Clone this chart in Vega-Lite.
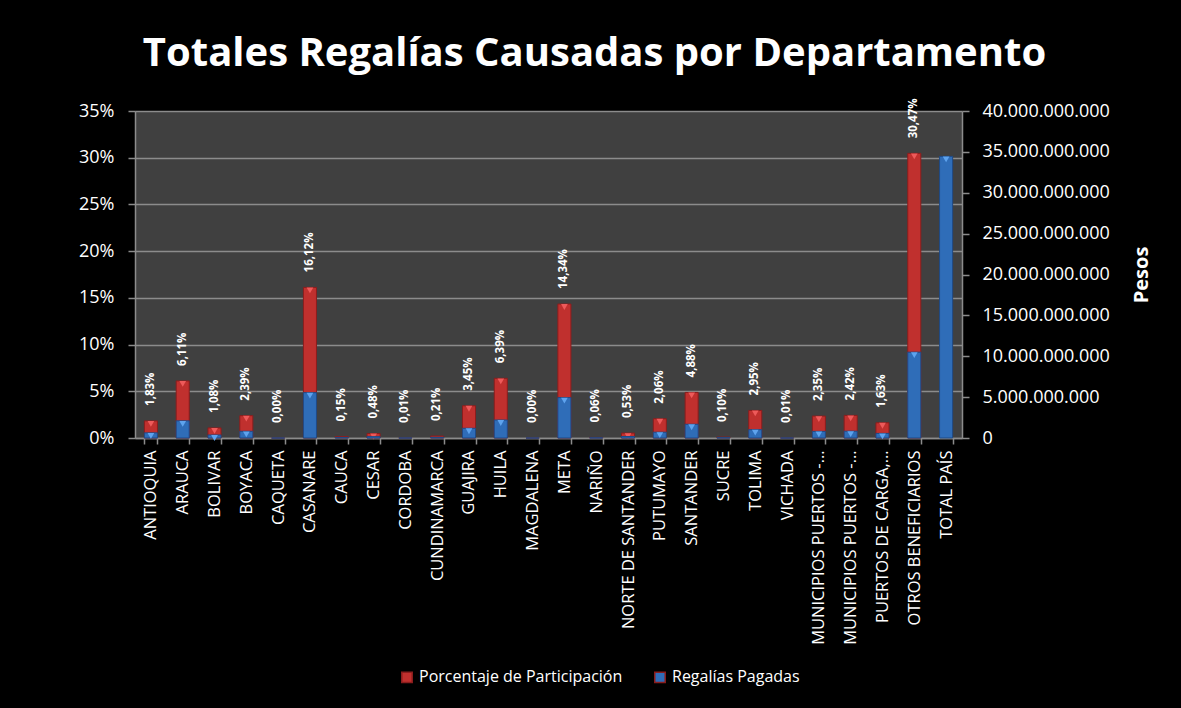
{
  "$schema": "https://vega.github.io/schema/vega-lite/v6.json",
  "width": 827,
  "height": 327,
  "autosize": {"type": "none"},
  "padding": {"left": 135, "top": 111, "right": 219, "bottom": 270},
  "background": "#000000",
  "config": {
    "view": {"fill": "#404040", "stroke": null},
    "font": "Open Sans"
  },
  "title": {
    "text": "Totales Regalías Causadas por Departamento",
    "font": "Open Sans",
    "fontSize": 40,
    "fontWeight": "bold",
    "color": "#ffffff",
    "anchor": "middle",
    "dx": 46,
    "offset": 24
  },
  "data": {
    "values": [
      {"dpto": "ANTIOQUIA", "pct": 0.0183, "pesos": 630000000},
      {"dpto": "ARAUCA", "pct": 0.0611, "pesos": 2100000000},
      {"dpto": "BOLIVAR", "pct": 0.0108, "pesos": 370000000},
      {"dpto": "BOYACA", "pct": 0.0239, "pesos": 820000000},
      {"dpto": "CAQUETA", "pct": 0.0, "pesos": 0},
      {"dpto": "CASANARE", "pct": 0.1612, "pesos": 5550000000},
      {"dpto": "CAUCA", "pct": 0.0015, "pesos": 52000000},
      {"dpto": "CESAR", "pct": 0.0048, "pesos": 165000000},
      {"dpto": "CORDOBA", "pct": 0.0001, "pesos": 3000000},
      {"dpto": "CUNDINAMARCA", "pct": 0.0021, "pesos": 72000000},
      {"dpto": "GUAJIRA", "pct": 0.0345, "pesos": 1190000000},
      {"dpto": "HUILA", "pct": 0.0639, "pesos": 2200000000},
      {"dpto": "MAGDALENA", "pct": 0.0, "pesos": 0},
      {"dpto": "META", "pct": 0.1434, "pesos": 4940000000},
      {"dpto": "NARIÑO", "pct": 0.0006, "pesos": 21000000},
      {"dpto": "NORTE DE SANTANDER", "pct": 0.0053, "pesos": 183000000},
      {"dpto": "PUTUMAYO", "pct": 0.0206, "pesos": 710000000},
      {"dpto": "SANTANDER", "pct": 0.0488, "pesos": 1680000000},
      {"dpto": "SUCRE", "pct": 0.001, "pesos": 34000000},
      {"dpto": "TOLIMA", "pct": 0.0295, "pesos": 1016000000},
      {"dpto": "VICHADA", "pct": 0.0001, "pesos": 3000000},
      {"dpto": "MUNICIPIOS PUERTOS - MARÍTIMOS", "pct": 0.0235, "pesos": 810000000},
      {"dpto": "MUNICIPIOS PUERTOS - FLUVIALES", "pct": 0.0242, "pesos": 834000000},
      {"dpto": "PUERTOS DE CARGA, DESCARGUE", "pct": 0.0163, "pesos": 562000000},
      {"dpto": "OTROS BENEFICIARIOS", "pct": 0.3047, "pesos": 10500000000},
      {"dpto": "TOTAL PAÍS", "pct": null, "pesos": 34450000000}
    ]
  },
  "encoding": {
    "x": {
      "field": "dpto",
      "type": "nominal",
      "sort": null,
      "scale": {"paddingInner": 0.59, "paddingOuter": 0.295},
      "axis": {
        "title": null,
        "labelAngle": 270,
        "labelAlign": "right",
        "labelBaseline": "middle",
        "labelColor": "#ffffff",
        "labelFontSize": 16.5,
        "labelPadding": 6,
        "labelLimit": 300,
        "labelExpr": "isString(datum.value) ? (indexof(datum.value, 'MUNICIPIOS PUERTOS') == 0 ? 'MUNICIPIOS PUERTOS -…' : (indexof(datum.value, 'PUERTOS DE CARGA') == 0 ? 'PUERTOS DE CARGA,…' : datum.value)) : ''",
        "tickBand": "extent",
        "tickSize": 6,
        "tickColor": "#8c8c8c",
        "tickWidth": 1.5,
        "domainColor": "#8c8c8c",
        "domainWidth": 1.5,
        "grid": false
      }
    }
  },
  "layer": [
    {
      "encoding": {
        "y": {
          "field": "pct",
          "type": "quantitative",
          "scale": {"domain": [0, 0.35]},
          "axis": {
            "title": null,
            "orient": "left",
            "format": ".0%",
            "values": [0, 0.05, 0.1, 0.15, 0.2, 0.25, 0.3, 0.35],
            "labelColor": "#ffffff",
            "labelFontSize": 18,
            "labelPadding": 14,
            "tickSize": 7,
            "tickColor": "#8c8c8c",
            "tickWidth": 1.5,
            "domainColor": "#8c8c8c",
            "domainWidth": 1.5,
            "grid": true,
            "gridColor": "#8c8c8c",
            "gridWidth": 1.5
          }
        }
      },
      "layer": [
        {
          "mark": {"type": "bar", "stroke": "#8a1d1d", "strokeWidth": 1},
          "encoding": {
            "color": {
              "datum": "Porcentaje de Participación",
              "scale": {
                "domain": ["Porcentaje de Participación", "Regalías Pagadas"],
                "range": ["#c0302e", "#2f6db8"]
              },
              "legend": {
                "title": null,
                "orient": "none",
                "legendX": 264,
                "legendY": 558,
                "direction": "horizontal",
                "labelColor": "#ffffff",
                "labelFontSize": 16,
                "labelLimit": 400,
                "symbolType": "square",
                "symbolSize": 110,
                "columnPadding": 28,
                "labelOffset": 4
              }
            }
          }
        },
        {
          "transform": [{"filter": "datum.pct >= 0.004"}],
          "mark": {"type": "point", "shape": "triangle-down", "filled": true, "color": "#ee5a5a", "size": 45, "yOffset": 3, "opacity": 1}
        },
        {
          "transform": [{"filter": "isValid(datum.pct)"}],
          "mark": {
            "type": "text",
            "angle": 270,
            "align": "left",
            "baseline": "middle",
            "dx": 15,
            "fontSize": 11.5,
            "fontWeight": "bold",
            "color": "#ffffff",
            "text": {"expr": "replace(format(datum.pct, '.2%'), '.', ',')"}
          }
        }
      ]
    },
    {
      "encoding": {
        "y": {
          "field": "pesos",
          "type": "quantitative",
          "scale": {"domain": [0, 40000000000]},
          "axis": {
            "title": "Pesos",
            "orient": "right",
            "values": [0, 5000000000, 10000000000, 15000000000, 20000000000, 25000000000, 30000000000, 35000000000, 40000000000],
            "labelExpr": "replace(replace(replace(format(datum.value, ','), ',', '.'), ',', '.'), ',', '.')",
            "labelColor": "#ffffff",
            "labelFontSize": 18,
            "labelPadding": 13,
            "tickSize": 7,
            "tickColor": "#8c8c8c",
            "tickWidth": 1.5,
            "domainColor": "#8c8c8c",
            "domainWidth": 1.5,
            "grid": false,
            "titleColor": "#ffffff",
            "titleFontSize": 20,
            "titleFontWeight": "bold",
            "titleAngle": 270,
            "titlePadding": 42
          }
        }
      },
      "layer": [
        {
          "mark": {"type": "bar", "stroke": "#1f4a85", "strokeWidth": 1},
          "encoding": {
            "color": {"datum": "Regalías Pagadas"}
          }
        },
        {
          "transform": [{"filter": "datum.pesos >= 300000000"}],
          "mark": {"type": "point", "shape": "triangle-down", "filled": true, "color": "#5ea3ee", "size": 45, "yOffset": 3, "opacity": 1}
        }
      ]
    }
  ],
  "resolve": {"scale": {"y": "independent"}}
}
